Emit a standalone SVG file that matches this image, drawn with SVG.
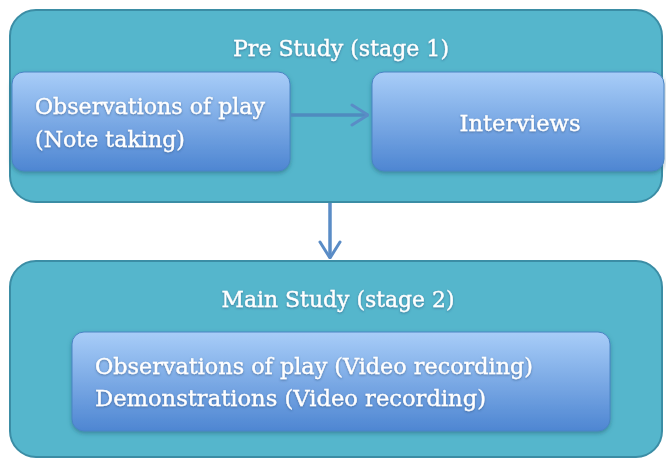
<svg xmlns="http://www.w3.org/2000/svg" width="666" height="461" viewBox="0 0 666 461">
<defs>
<linearGradient id="g" x1="0" y1="0" x2="0" y2="1">
<stop offset="0" stop-color="#a8cdf8"/>
<stop offset="1" stop-color="#4e86d2"/>
</linearGradient>
<filter id="sh" x="-5%" y="-5%" width="110%" height="120%">
<feDropShadow dx="0" dy="2" stdDeviation="2" flood-color="#1f5a70" flood-opacity="0.5"/>
</filter>
<filter id="ts" x="-5%" y="-20%" width="110%" height="140%">
<feDropShadow dx="0" dy="1" stdDeviation="0.8" flood-color="#2a4f7a" flood-opacity="0.6"/>
</filter>
<marker id="ah2" viewBox="0 0 20 24" refX="19" refY="12" markerWidth="20" markerHeight="24" markerUnits="userSpaceOnUse" orient="auto">
<path d="M3,2 L19,12 L3,22" fill="none" stroke="#5a8cc6" stroke-width="3" stroke-linecap="round" stroke-linejoin="round"/>
</marker>
</defs>
<style>
.outer{fill:#55b6cc;stroke:#3b8da5;stroke-width:2}
.inner{fill:url(#g);stroke:#4a84c4;stroke-width:1;filter:url(#sh)}
text{font-family:"DejaVu Serif Condensed","DejaVu Serif",serif;fill:#ffffff;stroke:#ffffff;stroke-width:0.3;font-size:22px;filter:url(#ts)}
.conn{stroke:#5a8cc6;stroke-width:3.5;fill:none}
.h{stroke:#4f8bbf}
</style>
<rect width="666" height="461" fill="#ffffff"/>
<g id="pre-study">
<rect class="outer" x="10" y="10" width="652" height="192" rx="26"/>
<text x="341" y="56" text-anchor="middle" textLength="216" lengthAdjust="spacingAndGlyphs">Pre Study (stage 1)</text>
</g>
<g id="obs-note">
<rect class="inner" x="12" y="72" width="278" height="99" rx="12"/>
<text x="35" y="114" textLength="230" lengthAdjust="spacingAndGlyphs">Observations of play</text>
<text x="35" y="147" textLength="150" lengthAdjust="spacingAndGlyphs">(Note taking)</text>
</g>
<g id="interviews">
<rect class="inner" x="372" y="72" width="292" height="99" rx="12"/>
<text x="520" y="131" text-anchor="middle" textLength="121" lengthAdjust="spacingAndGlyphs">Interviews</text>
</g>
<g id="main-study">
<rect class="outer" x="10" y="261" width="652" height="196" rx="26"/>
<text x="338" y="307" text-anchor="middle" textLength="233" lengthAdjust="spacingAndGlyphs">Main Study (stage 2)</text>
</g>
<g id="obs-video">
<rect class="inner" x="72" y="332" width="538" height="99" rx="12"/>
<text x="95" y="374" textLength="438" lengthAdjust="spacingAndGlyphs">Observations of play (Video recording)</text>
<text x="95" y="406" textLength="391" lengthAdjust="spacingAndGlyphs">Demonstrations (Video recording)</text>
</g>
<g id="connectors">
<path class="conn h" d="M291,115 H368" marker-end="url(#ah2)"/>
<path class="conn" d="M330,203 V258" marker-end="url(#ah2)"/>
</g>
</svg>
